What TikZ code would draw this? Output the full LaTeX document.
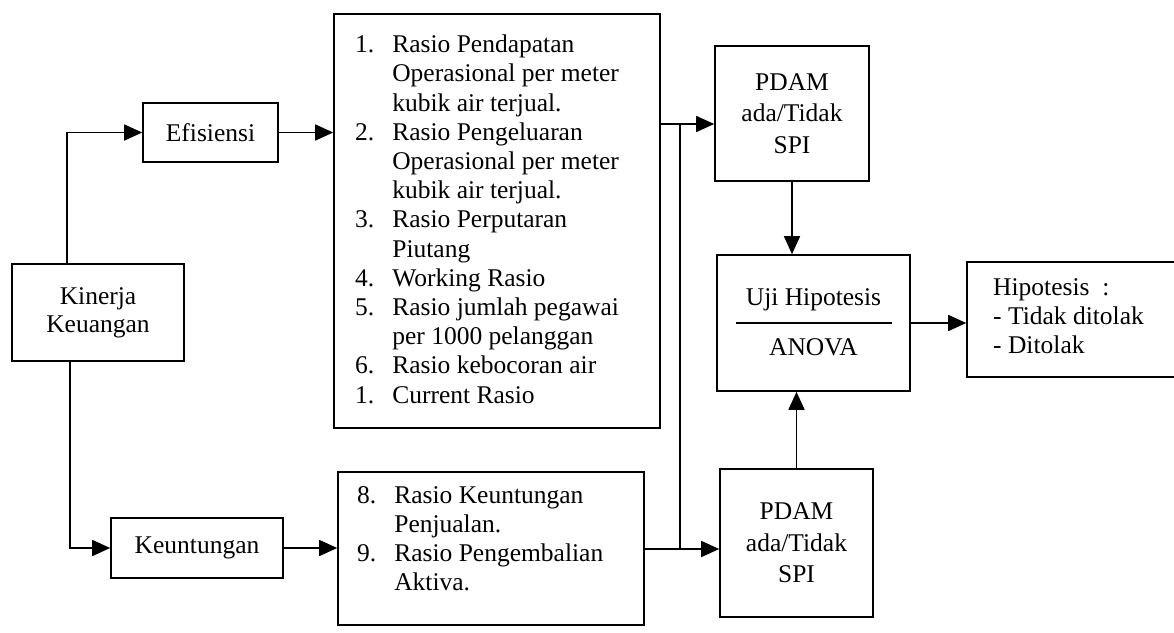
\documentclass[tikz,border=0pt]{standalone}
\usepackage{fontspec}
\setmainfont{Liberation Serif}
\usetikzlibrary{arrows.meta}
\newcommand{\diagfont}{\fontsize{25.5}{29.2}\selectfont}
\newcommand{\pdamfont}{\fontsize{25.5}{31.5}\selectfont}
\newcommand{\kinfont}{\fontsize{25.5}{28}\selectfont}
\begin{document}
\begin{tikzpicture}[x=1pt,y=-1pt,
  box/.style={draw, line width=1.6pt, rectangle, inner sep=0pt, align=center, font=\diagfont},
  pdambox/.style={box, font=\pdamfont},
  txt/.style={inner sep=0pt, font=\diagfont},
  arr/.style={line width=1.6pt, -{Triangle[length=18pt,width=16pt]}},
  conn/.style={line width=1.6pt}]
\useasboundingbox (0,0) rectangle (1174,632);
\clip (0,0) rectangle (1174,632);
\fill[white] (0,0) rectangle (1174,632);

% boxes
\node[box, font=\kinfont, minimum width=172pt, minimum height=97pt] (k) at (98,312.5) {Kinerja\\Keuangan};
\node[box, minimum width=135pt, minimum height=59pt] (eff) at (210.5,132.5) {Efisiensi};
\node[box, minimum width=172pt, minimum height=60pt] (keu) at (197,548) {Keuntungan};
\node[box, minimum width=326pt, minimum height=414pt] (list1) at (497,221) {};
\node[box, minimum width=306pt, minimum height=153pt] (list2) at (491,548.5) {};
\node[pdambox, minimum width=154pt, minimum height=135pt] (pdam1) at (792,113.5) {PDAM\\ada/Tidak\\SPI};
\node[pdambox, minimum width=153pt, minimum height=148pt] (pdam2) at (796.5,543) {PDAM\\ada/Tidak\\SPI};
\node[box, minimum width=193pt, minimum height=136pt] (uji) at (813.5,323) {};
\node[box, minimum width=260pt, minimum height=115pt] (hip) at (1097,319.5) {};

% list texts
\node[txt, anchor=base west] (list1text) at (355,52.7) {\begin{tabular}[t]{@{}r@{\hspace{18pt}}l@{}}
1. & Rasio Pendapatan\\
   & Operasional per meter\\
   & kubik air terjual.\\
2. & Rasio Pengeluaran\\
   & Operasional per meter\\
   & kubik air terjual.\\
3. & Rasio Perputaran\\
   & Piutang\\
4. & Working Rasio\\
5. & Rasio jumlah pegawai\\
   & per 1000 pelanggan\\
6. & Rasio kebocoran air\\
1. & Current Rasio
\end{tabular}};
\node[txt, anchor=base west] (list2text) at (357,503) {\begin{tabular}[t]{@{}r@{\hspace{18pt}}l@{}}
8. & Rasio Keuntungan\\
   & Penjualan.\\
9. & Rasio Pengembalian\\
   & Aktiva.
\end{tabular}};

% Uji Hipotesis content
\node[txt] (ujitop) at (813.5,300) {Uji Hipotesis};
\node[txt] (ujibot) at (813.5,347) {ANOVA};
\draw[line width=1.6pt] ([xshift=-78pt]uji.center) -- ([xshift=78pt]uji.center);

% Hipotesis content
\node[txt, anchor=base west] (hiptext) at (993,295) {\begin{tabular}[t]{@{}l@{}}
Hipotesis~~:\\
- Tidak ditolak\\
- Ditolak
\end{tabular}};

% connectors
\coordinate (j1) at (680,124);
\coordinate (j2) at (680,549);
\draw[arr] ([xshift=-31pt]k.north) |- (eff.west);
\draw[arr] ([xshift=-28pt]k.south) |- (keu.west);
\draw[arr] (eff.east) -- (eff.east -| list1.west);
\draw[arr] (keu.east) -- (keu.east -| list2.west);
\draw[arr] (list1.east |- j1) -- (j1 -| pdam1.west);
\draw[arr] (list2.east |- j2) -- (j2 -| pdam2.west);
\draw[conn] (j1) -- (j2);
\draw[arr] (pdam1.south) -- (pdam1.south |- uji.north);
\draw[arr] (pdam2.north) -- (pdam2.north |- uji.south);
\draw[arr] (uji.east) -- (uji.east -| hip.west);
\end{tikzpicture}
\end{document}
